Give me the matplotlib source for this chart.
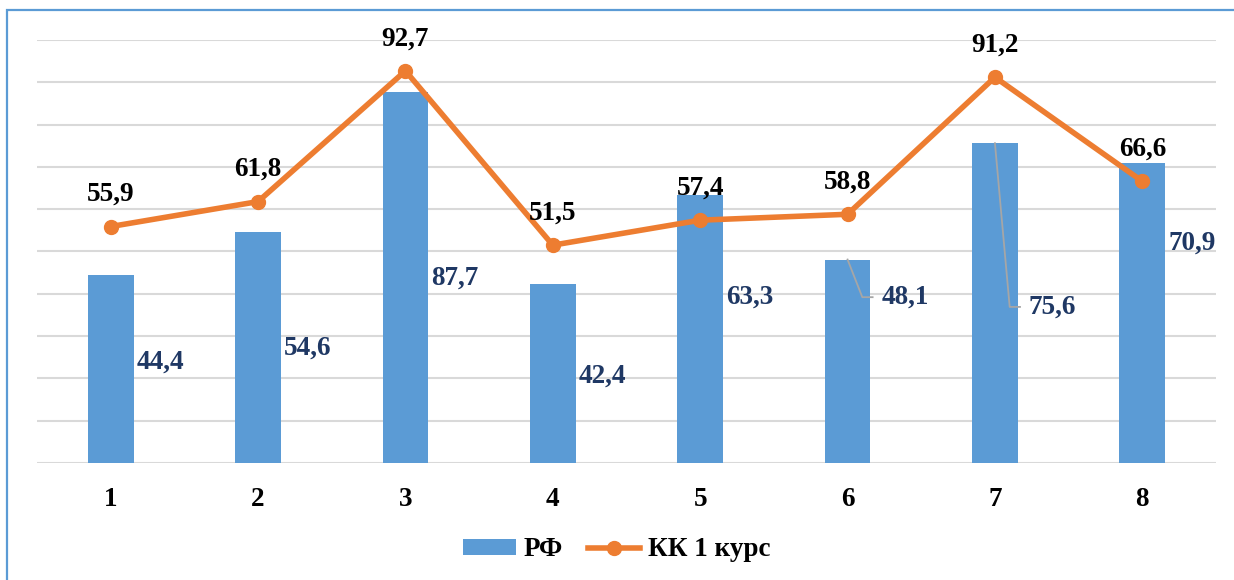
import matplotlib.pyplot as plt
from matplotlib.patches import Rectangle, Patch
from matplotlib.lines import Line2D

categories = ["1", "2", "3", "4", "5", "6", "7", "8"]
rf = [44.4, 54.6, 87.7, 42.4, 63.3, 48.1, 75.6, 70.9]
kk = [55.9, 61.8, 92.7, 51.5, 57.4, 58.8, 91.2, 66.6]
# where the bar labels sit (data units), as in the source chart
rf_label_y = [23.9, 27.2, 43.7, 20.6, 39.2, 39.2, 36.9, 52.0]

bar_col = "#5B9BD5"
line_col = "#ED7D31"
lab_col = "#1F3864"
font = ["Liberation Serif", "DejaVu Serif"]
fs = 19.5

fig = plt.figure(figsize=(12.34, 5.8), dpi=100)
ax = fig.add_axes([37 / 1234, 1 - 463 / 580, (1216 - 37) / 1234, (463 - 40) / 580])

x = list(range(len(categories)))
ax.bar(x, rf, width=0.31, color=bar_col, zorder=2)
ax.plot(x, kk, color=line_col, lw=4, marker="o", ms=10, zorder=3,
        solid_capstyle="round")

ax.set_xlim(-0.5, 7.5)
ax.set_ylim(0, 100)
ax.set_yticks(range(0, 101, 10))
ax.yaxis.grid(True, color="#D9D9D9", lw=1.5, zorder=0)
ax.tick_params(axis="y", left=False, labelleft=False)
ax.tick_params(axis="x", bottom=False, pad=14)
ax.set_xticks(x)
ax.set_xticklabels(categories, fontsize=fs, fontweight="bold", family=font)
for s in ax.spines.values():
    s.set_visible(False)

# line labels
for i, v in enumerate(kk):
    ax.annotate(f"{v:.1f}".replace(".", ","), (i, v), xytext=(0, 23),
                textcoords="offset points", ha="center", va="center",
                fontsize=fs, fontweight="bold", family=font, color="black")

# bar labels
for i, v in enumerate(rf):
    txt = f"{v:.1f}".replace(".", ",")
    ly = rf_label_y[i]
    if i in (5, 6):
        ax.plot([i, i + 0.1, i + 0.17], [v, ly, ly], color="#A6A6A6", lw=1.3, zorder=4)
        ax.text(i + 0.23, ly, txt, ha="left", va="center", fontsize=fs,
                fontweight="bold", family=font, color=lab_col, zorder=5)
    else:
        ax.text(i + 0.175, ly, txt, ha="left", va="center", fontsize=fs,
                fontweight="bold", family=font, color=lab_col, zorder=5)

handles = [Patch(facecolor=bar_col),
           Line2D([], [], color=line_col, lw=4, marker="o", ms=10)]
fig.legend(handles, ["РФ", "КК 1 курс"], loc="center",
           bbox_to_anchor=(0.5, 1 - 550 / 580), ncol=2, frameon=False,
           prop={"family": font, "weight": "bold", "size": fs},
           handlelength=1.95, handleheight=0.5, columnspacing=0.9,
           handletextpad=0.3)

# frame around the chart
fig.patches.append(Rectangle((7 / 1234, -0.05), 1.2, 1 - 10 / 580 + 0.05,
                             transform=fig.transFigure, fill=False,
                             edgecolor=bar_col, lw=1.6))

fig.savefig("out.png", dpi=100)
